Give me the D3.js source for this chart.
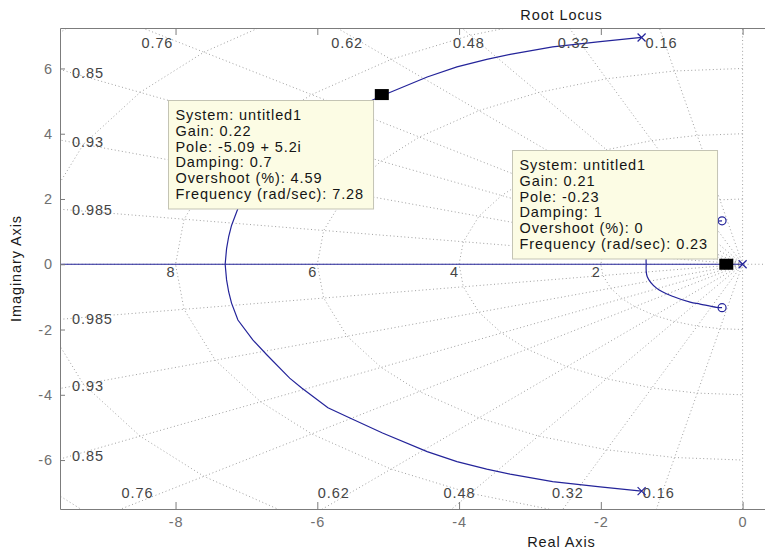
<!DOCTYPE html>
<meta charset="utf-8">
<head>
  <meta charset="UTF-8">
  <title>Root Locus</title>
  <style>
    body { margin: 0; background: #fff; }
    svg text { font-family: "Liberation Sans", Arial, sans-serif; font-size: 14.5px; letter-spacing: 0.9px; }
    .grid { fill: none; stroke: #a0a0a0; stroke-width: 1; stroke-dasharray: 1,2.6; }
    .locus { fill: none; stroke: #24249a; stroke-width: 1.2; }
  </style>
</head>
<body>
<script src="https://d3js.org/d3.v7.min.js"></script>
<div id="chart"></div>
<script>

// Size
var width = 765, height = 552;
var xDomain = [-9.63, 4.52],
    yDomain = [-7.5, 7.24];

// Axis ticks
var xTicks = [-8, -6, -4, -2, 0];
var yTicks = [-6, -4, -2, 0, 2, 4, 6];

// sgrid: damping rays and natural frequency "circles"
var dampings = [0.16, 0.32, 0.48, 0.62, 0.76, 0.85, 0.93, 0.985];
var frequencies = [2, 4, 6, 8, 10, 12];
var freqLabels = [2, 4, 6, 8];

// complex branch from upper pole to break-in point (lower one is the mirror)
var branchRe = [-1.425, -2.01, -2.68, -3.28, -3.61, -4.03, -4.45, -5.08, -5.54, -5.85, -6.22, -6.39, -6.71, -6.91, -7.12, -7.21, -7.25, -7.28, -7.30];
var branchIm = [6.95, 6.82, 6.66, 6.43, 6.28, 6.05, 5.74, 5.17, 4.71, 4.40, 3.79, 3.49, 2.78, 2.32, 1.71, 1.19, 0.85, 0.48, 0];

// branch from break-away point to the upper zero (lower one is the mirror)
var zeroBranchRe = [-1.36, -1.345, -1.21, -0.98, -0.74, -0.60, -0.37, -0.29];
var zeroBranchIm = [0, 0.38, 0.74, 0.99, 1.16, 1.22, 1.32, 1.33];

var poleRe = [-1.425, -1.425, 0];
var poleIm = [6.95, -6.95, 0];
var zeroRe = [-0.29, -0.29];
var zeroIm = [1.33, -1.33];

// data tips
var tipGain = [0.22, 0.21];
var tipRe = [-5.09, -0.23];
var tipIm = [5.2, 0];
var tipDamping = [0.7, 1];
var tipOvershoot = [4.59, 0];
var tipFreq = [7.28, 0.23];
var tipSide = ["below", "above"];

var x = d3.scaleLinear().domain(xDomain).range([60, 1063]);
var y = d3.scaleLinear().domain(yDomain).range([509, 28]);

var svg = d3.select("#chart").append("svg")
    .attr("width", width)
    .attr("height", height);

svg.append("clipPath").attr("id", "clip")
  .append("rect")
    .attr("x", x.range()[0]).attr("y", y.range()[1])
    .attr("width", x.range()[1] - x.range()[0])
    .attr("height", y.range()[0] - y.range()[1]);

var plot = svg.append("g").attr("clip-path", "url(#clip)");

var line = d3.line()
    .x(function(d) { return x(d[0]); })
    .y(function(d) { return y(d[1]); });

// --- grid ---
var R = 40;
dampings.forEach(function(z) {
  var s = Math.sqrt(1 - z * z);
  [1, -1].forEach(function(sign) {
    plot.append("path").attr("class", "grid")
      .attr("d", line([[0, 0], [-z * R, sign * s * R]]));
  });
});
plot.append("path").attr("class", "grid")
  .attr("d", line([[0, yDomain[0]], [0, yDomain[1]]]));
plot.append("path").attr("class", "grid")
  .attr("d", line([[xDomain[0], 0], [xDomain[1], 0]]));

var verts = [0].concat(dampings, [1]);
frequencies.forEach(function(w) {
  var pts = verts.map(function(z) { return [-z * w, Math.sqrt(1 - z * z) * w]; });
  var low = pts.slice(0, -1).reverse().map(function(p) { return [p[0], -p[1]]; });
  plot.append("path").attr("class", "grid").attr("d", line(pts.concat(low)));
});

// grid labels
var gridText = svg.append("g").attr("fill", "#454545");
dampings.forEach(function(z) {
  var r = z / Math.sqrt(1 - z * z);
  var yt = yDomain[1] - 0.18, yb = yDomain[0] + 0.2;
  if (-r * yt > xDomain[0] + 0.3) {
    gridText.append("text").attr("text-anchor", "middle")
      .attr("x", x(-r * yt)).attr("y", y(yt) + 14).text(String(z));
    gridText.append("text").attr("text-anchor", "middle")
      .attr("x", x(r * yb)).attr("y", y(yb) - 4.3).text(String(z));
  } else {
    var xl = xDomain[0] + 0.17;
    [1, -1].forEach(function(sign) {
      gridText.append("text").attr("text-anchor", "start")
        .attr("x", x(xl)).attr("y", y(sign * -xl / r)).attr("dy", "0.36em")
        .text(String(z));
    });
  }
});
freqLabels.forEach(function(w) {
  gridText.append("text").attr("text-anchor", "end")
    .attr("x", x(-w)).attr("y", y(0) + 12.7).text(String(w));
});

// --- locus ---
var upper = branchRe.map(function(d, i) { return [d, branchIm[i]]; });
var upperZ = zeroBranchRe.map(function(d, i) { return [d, zeroBranchIm[i]]; });
var smooth = d3.line().curve(d3.curveCatmullRom.alpha(0.5))
    .x(function(d) { return x(d[0]); })
    .y(function(d) { return y(d[1]); });
[[upper, line], [upperZ, smooth]].forEach(function(b) {
  plot.append("path").attr("class", "locus").attr("d", b[1](b[0]));
  plot.append("path").attr("class", "locus")
    .attr("d", b[1](b[0].map(function(p) { return [p[0], -p[1]]; })));
});
plot.append("path").attr("class", "locus")
  .attr("d", line([[xDomain[0], 0], [0, 0]]));

var m = 4;
poleRe.forEach(function(d, i) {
  var cx = x(d), cy = y(poleIm[i]);
  svg.append("path").attr("class", "locus").attr("stroke-width", 1)
    .attr("d", "M" + (cx - m) + "," + (cy - m) + "L" + (cx + m) + "," + (cy + m) +
               "M" + (cx - m) + "," + (cy + m) + "L" + (cx + m) + "," + (cy - m));
});
zeroRe.forEach(function(d, i) {
  svg.append("circle").attr("class", "locus").attr("stroke-width", 1)
    .attr("cx", x(d)).attr("cy", y(zeroIm[i])).attr("r", 4);
});

// --- axes ---
var axisColor = "#7c7c7c";
function styleAxis(g) {
  g.attr("font-size", null).attr("font-family", null);
  g.selectAll("path, line").attr("stroke", axisColor);
  g.selectAll("text").attr("fill", "#707070");
}
svg.append("g").attr("transform", "translate(0," + y.range()[0] + ")")
  .call(d3.axisBottom(x).tickValues(xTicks).tickSizeInner(-7).tickSizeOuter(0)
    .tickPadding(8).tickFormat(function(d) { return String(d); }))
  .call(styleAxis);
svg.append("g").attr("transform", "translate(0," + y.range()[1] + ")")
  .call(d3.axisTop(x).tickValues(xTicks).tickSizeInner(-7).tickSizeOuter(0))
  .call(styleAxis)
  .call(function(g) { g.selectAll("text").remove(); });
svg.append("g").attr("transform", "translate(" + x.range()[0] + ",0)")
  .call(d3.axisLeft(y).tickValues(yTicks).tickSizeInner(-5).tickSizeOuter(0)
    .tickPadding(7).tickFormat(function(d) { return String(d); }))
  .call(styleAxis);

var cxMid = (x.range()[0] + x.range()[1]) / 2;
svg.append("text").attr("x", cxMid).attr("y", 20).attr("text-anchor", "middle")
  .attr("fill", "#1a1a1a").text("Root Locus");
svg.append("text").attr("x", cxMid).attr("y", 547).attr("text-anchor", "middle")
  .attr("fill", "#1a1a1a").text("Real Axis");
svg.append("text").attr("text-anchor", "middle").attr("fill", "#1a1a1a")
  .attr("transform", "translate(21," + (y.range()[0] + y.range()[1]) / 2 + ")rotate(-90)")
  .text("Imaginary Axis");

// --- data tips ---
tipGain.forEach(function(g, i) {
  var px = x(tipRe[i]), py = y(tipIm[i]);
  var pole = tipIm[i] !== 0 ? tipRe[i] + " + " + tipIm[i] + "i" : String(tipRe[i]);
  var lines = ["System: untitled1", "Gain: " + g, "Pole: " + pole,
               "Damping: " + tipDamping[i], "Overshoot (%): " + tipOvershoot[i],
               "Frequency (rad/sec): " + tipFreq[i]];
  var box = svg.append("g");
  var rect = box.append("rect").attr("fill", "#fcfce4").attr("stroke", "#c4c4b4");
  var txt = box.append("text").attr("fill", "#151515");
  lines.forEach(function(l, k) {
    txt.append("tspan").attr("x", 7.5).attr("y", 20.3 + k * 15.7).text(l);
  });
  var w = d3.max(txt.selectAll("tspan").nodes(), function(n) { return n.getComputedTextLength(); }) + 16.5;
  var h = 20.3 + 5 * 15.7 + 9.7;
  rect.attr("width", w).attr("height", h).attr("x", 0.5).attr("y", 0.5);
  var bx = px - 9 - w, by = tipSide[i] === "below" ? py + 5 : py - 6 - h;
  box.attr("transform", "translate(" + Math.round(bx) + "," + Math.round(by) + ")");

  svg.append("rect").attr("fill", "#000")
    .attr("x", px - 7).attr("y", py - 5.5).attr("width", 14).attr("height", 11);
});

</script>
</body>
